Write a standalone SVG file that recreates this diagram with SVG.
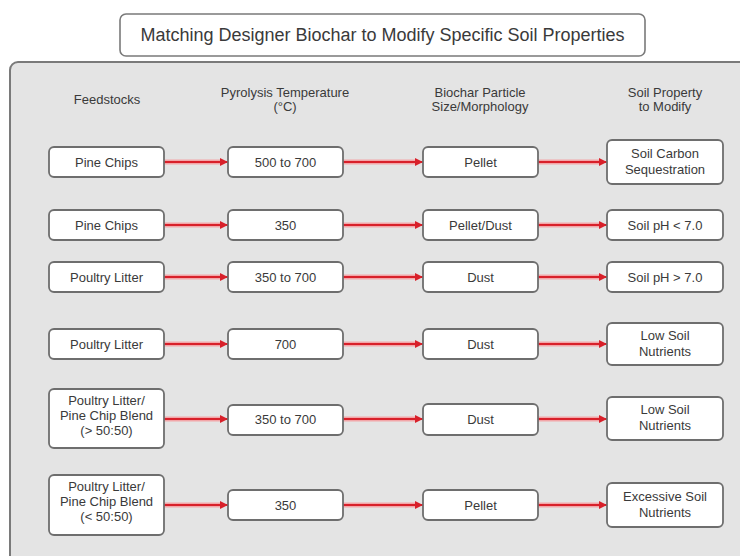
<svg xmlns="http://www.w3.org/2000/svg" width="740" height="556" viewBox="0 0 740 556">
<defs>
<marker id="ah" viewBox="0 0 10 10" refX="10" refY="5" markerWidth="4" markerHeight="4" markerUnits="strokeWidth" orient="auto">
<path d="M0,0 L10,5 L0,10 Z" fill="#d8202a"/>
</marker>
<style>
.bg{fill:#ffffff}
.panel{fill:#e4e4e4;stroke:#7a7a7a;stroke-width:2}
.title{fill:#ffffff;stroke:#7a7a7a;stroke-width:1.6}
.box{fill:#ffffff;stroke:#6e6e6e;stroke-width:1.8}
text{font-family:"Liberation Sans",Arial,sans-serif;fill:#3a3a3a;text-anchor:middle}
.t{font-size:18px}
.h{font-size:13px}
.n{font-size:13px}
.halo{stroke:#f2a5a8;stroke-width:5;fill:none}
.line{stroke:#d8202a;stroke-width:2;fill:none;marker-end:url(#ah)}
</style>
</defs>
<rect class="bg" x="0" y="0" width="740" height="556"/>
<rect class="panel" x="10" y="62" width="760" height="520" rx="8"/>
<g id="title">
<rect class="title" x="120" y="14" width="525" height="42" rx="6"/>
<text class="t" x="382.5" y="41">Matching Designer Biochar to Modify Specific Soil Properties</text>
</g>
<g id="headers">
<text class="h" x="107" y="104">Feedstocks</text>
<text class="h" x="285" y="97">Pyrolysis Temperature</text>
<text class="h" x="285" y="111">(°C)</text>
<text class="h" x="480" y="97">Biochar Particle</text>
<text class="h" x="480" y="111">Size/Morphology</text>
<text class="h" x="665" y="97">Soil Property</text>
<text class="h" x="665" y="111">to Modify</text>
</g>
<g id="connectors">
<g class="halos">
<path class="halo" d="M164,162H222M343,162H417M538,162H601"/>
<path class="halo" d="M164,225H222M343,225H417M538,225H601"/>
<path class="halo" d="M164,277H222M343,277H417M538,277H601"/>
<path class="halo" d="M164,344H222M343,344H417M538,344H601"/>
<path class="halo" d="M164,419H222M343,419H417M538,419H601"/>
<path class="halo" d="M164,505H222M343,505H417M538,505H601"/>
</g>
<path class="line" d="M164,162H228"/><path class="line" d="M343,162H423"/><path class="line" d="M538,162H607"/>
<path class="line" d="M164,225H228"/><path class="line" d="M343,225H423"/><path class="line" d="M538,225H607"/>
<path class="line" d="M164,277H228"/><path class="line" d="M343,277H423"/><path class="line" d="M538,277H607"/>
<path class="line" d="M164,344H228"/><path class="line" d="M343,344H423"/><path class="line" d="M538,344H607"/>
<path class="line" d="M164,419H228"/><path class="line" d="M343,419H423"/><path class="line" d="M538,419H607"/>
<path class="line" d="M164,505H228"/><path class="line" d="M343,505H423"/><path class="line" d="M538,505H607"/>
</g>
<!-- Row 1 -->
<g id="r1f"><rect class="box" x="49" y="147" width="115" height="30" rx="5"/><text class="n" x="106.5" y="166.5">Pine Chips</text></g>
<g id="r1t"><rect class="box" x="228" y="147" width="115" height="30" rx="5"/><text class="n" x="285.5" y="166.5">500 to 700</text></g>
<g id="r1m"><rect class="box" x="423" y="147" width="115" height="30" rx="5"/><text class="n" x="480.5" y="166.5">Pellet</text></g>
<g id="r1s"><rect class="box" x="607" y="140" width="116" height="44" rx="5"/><text class="n" x="665" y="158">Soil Carbon</text><text class="n" x="665" y="174">Sequestration</text></g>
<!-- Row 2 -->
<g id="r2f"><rect class="box" x="49" y="210" width="115" height="30" rx="5"/><text class="n" x="106.5" y="229.5">Pine Chips</text></g>
<g id="r2t"><rect class="box" x="228" y="210" width="115" height="30" rx="5"/><text class="n" x="285.5" y="229.5">350</text></g>
<g id="r2m"><rect class="box" x="423" y="210" width="115" height="30" rx="5"/><text class="n" x="480.5" y="229.5">Pellet/Dust</text></g>
<g id="r2s"><rect class="box" x="607" y="210" width="116" height="30" rx="5"/><text class="n" x="665" y="229.5">Soil pH &lt; 7.0</text></g>
<!-- Row 3 -->
<g id="r3f"><rect class="box" x="49" y="262" width="115" height="30" rx="5"/><text class="n" x="106.5" y="281.5">Poultry Litter</text></g>
<g id="r3t"><rect class="box" x="228" y="262" width="115" height="30" rx="5"/><text class="n" x="285.5" y="281.5">350 to 700</text></g>
<g id="r3m"><rect class="box" x="423" y="262" width="115" height="30" rx="5"/><text class="n" x="480.5" y="281.5">Dust</text></g>
<g id="r3s"><rect class="box" x="607" y="262" width="116" height="30" rx="5"/><text class="n" x="665" y="281.5">Soil pH &gt; 7.0</text></g>
<!-- Row 4 -->
<g id="r4f"><rect class="box" x="49" y="329" width="115" height="30" rx="5"/><text class="n" x="106.5" y="348.5">Poultry Litter</text></g>
<g id="r4t"><rect class="box" x="228" y="329" width="115" height="30" rx="5"/><text class="n" x="285.5" y="348.5">700</text></g>
<g id="r4m"><rect class="box" x="423" y="329" width="115" height="30" rx="5"/><text class="n" x="480.5" y="348.5">Dust</text></g>
<g id="r4s"><rect class="box" x="607" y="323" width="116" height="42" rx="5"/><text class="n" x="665" y="340">Low Soil</text><text class="n" x="665" y="356">Nutrients</text></g>
<!-- Row 5 -->
<g id="r5f"><rect class="box" x="49" y="389" width="115" height="59" rx="5"/><text class="n" x="106.5" y="405">Poultry Litter/</text><text class="n" x="106.5" y="420">Pine Chip Blend</text><text class="n" x="106.5" y="435">(&gt; 50:50)</text></g>
<g id="r5t"><rect class="box" x="228" y="405" width="115" height="30" rx="5"/><text class="n" x="285.5" y="424">350 to 700</text></g>
<g id="r5m"><rect class="box" x="423" y="404" width="115" height="31" rx="5"/><text class="n" x="480.5" y="423.5">Dust</text></g>
<g id="r5s"><rect class="box" x="607" y="397" width="116" height="43" rx="5"/><text class="n" x="665" y="414">Low Soil</text><text class="n" x="665" y="430">Nutrients</text></g>
<!-- Row 6 -->
<g id="r6f"><rect class="box" x="49" y="475" width="115" height="60" rx="5"/><text class="n" x="106.5" y="491">Poultry Litter/</text><text class="n" x="106.5" y="506">Pine Chip Blend</text><text class="n" x="106.5" y="521">(&lt; 50:50)</text></g>
<g id="r6t"><rect class="box" x="228" y="490" width="115" height="30" rx="5"/><text class="n" x="285.5" y="509.5">350</text></g>
<g id="r6m"><rect class="box" x="423" y="490" width="115" height="30" rx="5"/><text class="n" x="480.5" y="509.5">Pellet</text></g>
<g id="r6s"><rect class="box" x="607" y="483" width="116" height="44" rx="5"/><text class="n" x="665" y="501">Excessive Soil</text><text class="n" x="665" y="517">Nutrients</text></g>
</svg>
